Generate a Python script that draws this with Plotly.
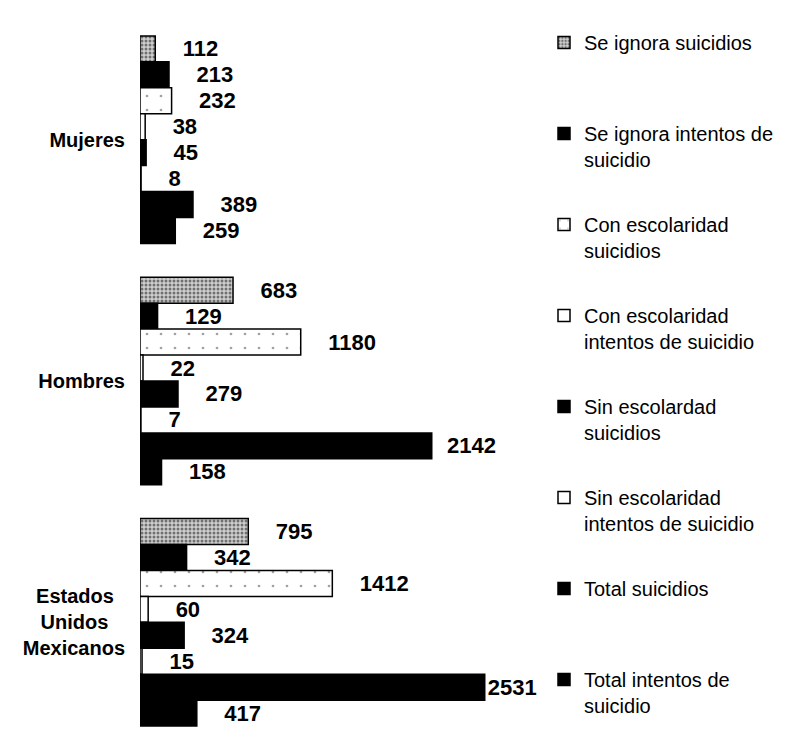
import plotly.graph_objects as go

# ---- data ----
categories = ["Mujeres", "Hombres", "Estados Unidos Mexicanos"]
tick_labels = ["Mujeres", "Hombres",
               "Estados\u00a0\u00a0<br>Unidos\u00a0\u00a0\u00a0<br>Mexicanos"]
series_names = [
    "Se ignora suicidios",
    "Se ignora intentos de suicidio",
    "Con escolaridad suicidios",
    "Con escolaridad intentos de suicidio",
    "Sin escolardad suicidios",
    "Sin escolaridad intentos de suicidio",
    "Total suicidios",
    "Total intentos de suicidio",
]
legend_labels = [
    "Se ignora suicidios<br>\u00a0",
    "Se ignora intentos de<br>suicidio",
    "Con escolaridad<br>suicidios",
    "Con escolaridad<br>intentos de suicidio",
    "Sin escolardad<br>suicidios",
    "Sin escolaridad<br>intentos de suicidio",
    "Total suicidios<br>\u00a0",
    "Total intentos de<br>suicidio",
]
mujeres = [112, 213, 232, 38, 45, 8, 389, 259]
hombres = [683, 129, 1180, 22, 279, 7, 2142, 158]
estados = [795, 342, 1412, 60, 324, 15, 2531, 417]

# ---- styles ----
styles = [
    dict(color="#cfcfcf", pattern=dict(shape=".", fgcolor="#111", size=4, solidity=0.45)),
    dict(color="black"),
    dict(color="white", pattern=dict(shape=".", fgcolor="#444", size=14, solidity=0.03)),
    dict(color="white"),
    dict(color="black"),
    dict(color="white"),
    dict(color="black"),
    dict(color="black"),
]

FONT = "Arial, Liberation Sans, sans-serif"
W, H = 788, 736  # page body has an 8px default margin


def label(v):
    n = 0 if v > 2500 else (2 if v > 2000 else 4)
    return "\u00a0" * n + str(v)


fig = go.Figure()
for i, name in enumerate(series_names):
    vals = [mujeres[i], hombres[i], estados[i]]
    st = styles[i]
    marker = dict(color=st["color"], line=dict(color="black", width=1.5))
    if "pattern" in st:
        marker["pattern"] = st["pattern"]
    fig.add_trace(go.Bar(
        name=legend_labels[i],
        y=categories,
        x=vals,
        orientation="h",
        marker=marker,
        text=[label(v) for v in vals],
        textposition="outside",
        textfont=dict(family=FONT, size=22, color="black", weight="bold"),
        constraintext="none",
        cliponaxis=False,
        legendgroup=f"g{i}",
        hoverinfo="skip",
    ))

fig.update_layout(
    width=W, height=H,
    barmode="group", bargap=0.14, bargroupgap=0,
    plot_bgcolor="white", paper_bgcolor="white",
    margin=dict(l=132, r=261, t=11, b=1),
    font=dict(family=FONT, color="black"),
    showlegend=True,
    legend=dict(
        xref="container", yref="container",
        x=536 / W, y=1 - 15 / H, xanchor="left", yanchor="top",
        traceorder="grouped", tracegroupgap=36,
        valign="top", maxheight=725,
        font=dict(family=FONT, size=20, color="black"),
        bgcolor="rgba(0,0,0,0)",
    ),
    xaxis=dict(range=[0, 2900], visible=False, showgrid=False, zeroline=False),
    yaxis=dict(
        type="category",
        categoryorder="array", categoryarray=categories,
        tickvals=categories, ticktext=tick_labels,
        range=[2.5, -0.5],
        showgrid=False, zeroline=False, showline=False,
        ticks="", ticklabelstandoff=14,
        tickfont=dict(family=FONT, size=20, color="black", weight="bold"),
    ),
)

fig.write_html("out.html")
